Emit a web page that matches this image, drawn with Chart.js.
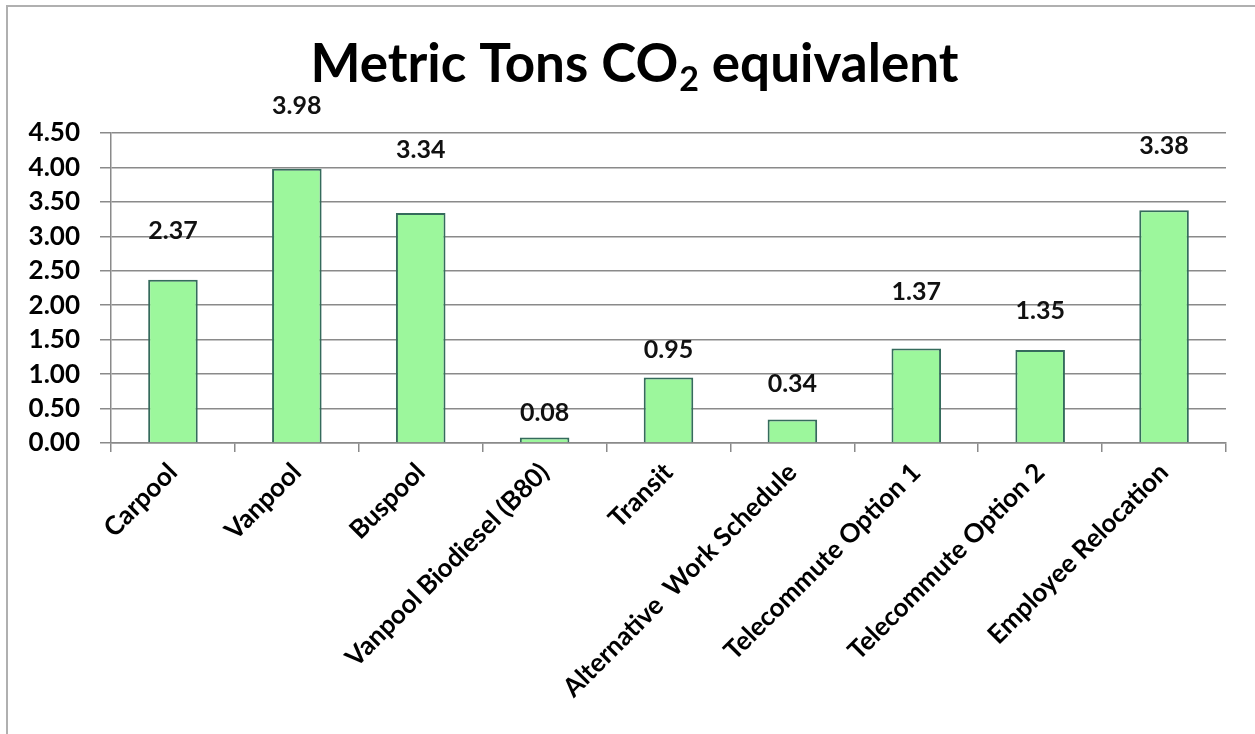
<!DOCTYPE html>
<html lang="en">
<head>
    <meta charset="UTF-8">
    <title>Metric Tons CO2 equivalent</title>
    <script src="https://cdn.jsdelivr.net/npm/chart.js"></script>
    <style>
        body {
            margin: 0;
            padding: 0;
            background: #fff;
        }
        .frame {
            position: absolute;
            left: 0;
            top: 0;
            width: 1255px;
            height: 734px;
        }
        .frame::before {
            content: "";
            position: absolute;
            left: 6px;
            top: 5px;
            right: 0;
            bottom: 0;
            border-top: 2px solid #b0b0b0;
            border-left: 2px solid #b0b0b0;
        }
        canvas {
            position: absolute;
            left: 0;
            top: 0;
        }
    </style>
</head>
<body>

<div class="frame">
    <canvas id="co2Chart" width="1255" height="734"></canvas>
</div>

<script>
    const categories = [
        'Carpool', 'Vanpool', 'Buspool', 'Vanpool Biodiesel (B80)', 'Transit',
        'Alternative  Work Schedule', 'Telecommute Option 1', 'Telecommute Option 2', 'Employee Relocation'
    ];
    const tonsCO2 = [2.37, 3.98, 3.34, 0.08, 0.95, 0.34, 1.37, 1.35, 3.38];
    const yTicks = [0, 0.5, 1, 1.5, 2, 2.5, 3, 3.5, 4, 4.5];

    // how far above each bar its value label sits (px), as placed in the original
    const labelLift = [49, 63, 63, 25, 28, 36, 57, 39, 64];

    const FONT = 'Lato, "Open Sans", sans-serif';

    const titlePlugin = {
        id: 'bigTitle',
        afterDraw(chart) {
            const ctx = chart.ctx;
            ctx.save();
            ctx.fillStyle = '#000';
            ctx.textBaseline = 'alphabetic';
            const main = 'Metric Tons CO';
            const tail = ' equivalent';
            const big = 'bold 53px ' + FONT;
            const small = 'bold 34px ' + FONT;
            ctx.font = big;
            const w1 = ctx.measureText(main).width;
            const w3 = ctx.measureText(tail).width;
            ctx.font = small;
            const w2 = ctx.measureText('2').width;
            let x = 634 - (w1 + w2 + w3) / 2;
            const base = 82;
            ctx.font = big;
            ctx.fillText(main, x, base);
            x += w1 + 1;
            ctx.font = small;
            ctx.fillText('2', x, base + 9);
            x += w2;
            ctx.font = big;
            ctx.fillText(tail, x, base);
            ctx.restore();
        }
    };

    const valueLabels = {
        id: 'valueLabels',
        afterDatasetsDraw(chart) {
            const ctx = chart.ctx;
            const meta = chart.getDatasetMeta(0);
            ctx.save();
            ctx.font = 'bold 25px ' + FONT;
            ctx.fillStyle = '#111';
            ctx.textAlign = 'center';
            ctx.textBaseline = 'middle';
            meta.data.forEach((bar, i) => {
                ctx.fillText(tonsCO2[i].toFixed(2), bar.x, bar.y - labelLift[i]);
            });
            ctx.restore();
        }
    };

    const ctx = document.getElementById('co2Chart').getContext('2d');
    const co2Chart = new Chart(ctx, {
        type: 'bar',
        data: {
            labels: categories,
            datasets: [{
                data: tonsCO2,
                backgroundColor: '#9cf79c',
                borderColor: '#356b5c',
                borderWidth: 2,
                categoryPercentage: 1,
                barPercentage: 0.4
            }]
        },
        options: {
            responsive: false,
            animation: false,
            layout: {
                padding: { top: 133, right: 29, left: 0, bottom: 0 }
            },
            plugins: {
                legend: { display: false },
                title: { display: false },
                tooltip: { enabled: false }
            },
            scales: {
                x: {
                    offset: true,
                    grid: {
                        offset: true,
                        drawOnChartArea: false,
                        drawTicks: true,
                        tickLength: 9,
                        color: '#8a8a8a',
                        lineWidth: 1.5
                    },
                    border: { color: '#8a8a8a', width: 1.5 },
                    ticks: {
                        minRotation: 45,
                        maxRotation: 45,
                        autoSkip: false,
                        padding: 5,
                        color: '#000',
                        font: { family: FONT, size: 26, weight: 'bold' }
                    },
                    afterFit(scale) { scale.height = 291; }
                },
                y: {
                    min: 0,
                    max: 4.5,
                    afterBuildTicks(scale) {
                        scale.ticks = yTicks.map(v => ({ value: v }));
                    },
                    grid: {
                        color: '#8a8a8a',
                        lineWidth: 1.5,
                        tickLength: 11
                    },
                    border: { color: '#8a8a8a', width: 1.5 },
                    ticks: {
                        padding: 20,
                        color: '#000',
                        font: { family: FONT, size: 26, weight: 'bold' },
                        callback: v => Number(v).toFixed(2)
                    },
                    afterFit(scale) { scale.width = 111; }
                }
            }
        },
        plugins: [titlePlugin, valueLabels]
    });
</script>

</body>
</html>
